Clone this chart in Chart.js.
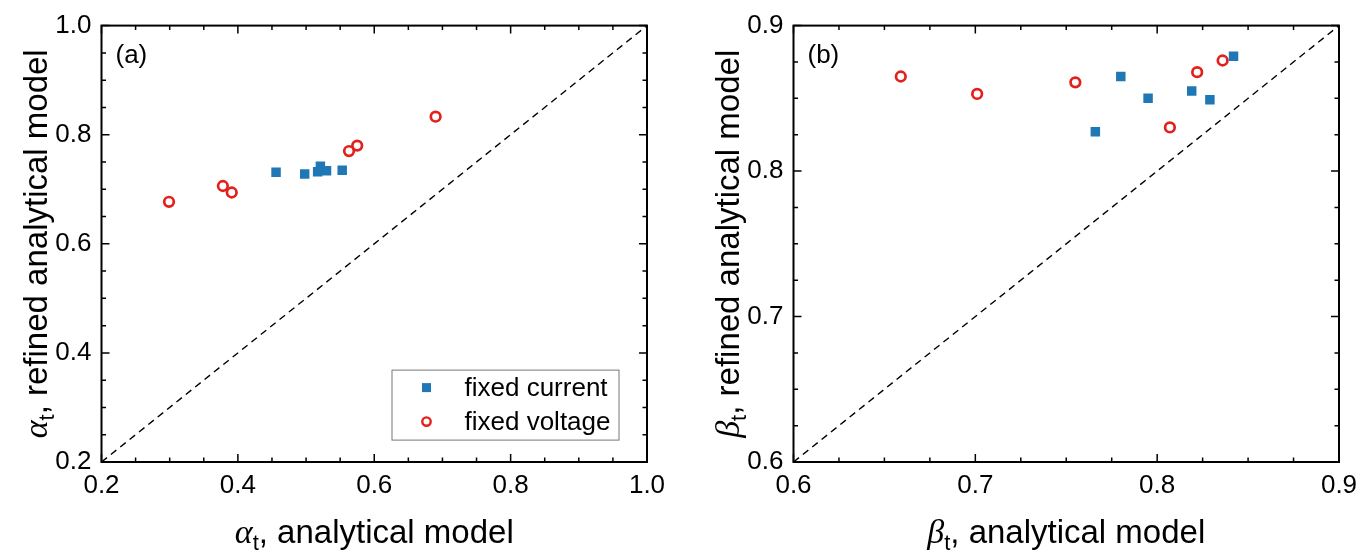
<!DOCTYPE html>
<html>
<head>
<meta charset="utf-8">
<script src="https://cdn.jsdelivr.net/npm/chart.js@4.4.0/dist/chart.umd.min.js"></script>
<style>
  html, body { margin: 0; padding: 0; background: #fff; }
  #wrap { position: relative; width: 1371px; height: 554px; }
  canvas { position: absolute; top: 0; }
</style>
</head>
<body>
<div id="wrap">
  <canvas id="chartA" width="692" height="554" style="left:0"></canvas>
  <canvas id="chartB" width="679" height="554" style="left:692px"></canvas>
</div>
<script>
// panel (a): alpha_t
const alphaCurX = [0.456, 0.498, 0.517, 0.521, 0.530, 0.553];
const alphaCurY = [0.731, 0.728, 0.732, 0.742, 0.734, 0.735];
const alphaVolX = [0.299, 0.378, 0.391, 0.563, 0.575, 0.690];
const alphaVolY = [0.677, 0.706, 0.694, 0.770, 0.780, 0.833];
const alphaRange = [0.2, 1.0];
const alphaTicks = [0.2, 0.4, 0.6, 0.8, 1.0];

// panel (b): beta_t
const betaCurX = [0.766, 0.780, 0.795, 0.819, 0.829, 0.842];
const betaCurY = [0.827, 0.865, 0.850, 0.855, 0.849, 0.879];
const betaVolX = [0.659, 0.701, 0.755, 0.807, 0.822, 0.836];
const betaVolY = [0.865, 0.853, 0.861, 0.830, 0.868, 0.876];
const betaRange = [0.6, 0.9];
const betaTicks = [0.6, 0.7, 0.8, 0.9];

const seriesNames = ['fixed current', 'fixed voltage'];

const BLUE = '#2077b6';
const RED = '#e3211c';
const SANS = '"Liberation Sans", Arial, sans-serif';

const pts = (xs, ys) => xs.map((x, i) => ({ x: x, y: ys[i] }));

function tickMarks(ctx, scale, area, step, labels, horizontal) {
  const n = Math.round((scale.max - scale.min) / step);
  ctx.beginPath();
  for (let i = 0; i <= n; i++) {
    const v = scale.min + i * step;
    const major = labels.some(t => Math.abs(t - v) < 1e-6);
    const len = major ? 8 : 4.5;
    const p = scale.getPixelForValue(v);
    if (horizontal) {
      ctx.moveTo(p, area.bottom); ctx.lineTo(p, area.bottom - len);
      ctx.moveTo(p, area.top); ctx.lineTo(p, area.top + len);
    } else {
      ctx.moveTo(area.left, p); ctx.lineTo(area.left + len, p);
      ctx.moveTo(area.right, p); ctx.lineTo(area.right - len, p);
    }
  }
  ctx.stroke();
}

// text made of runs: greek italic letter, subscript t, rest of title
function drawRuns(ctx, runs, cx, baseline) {
  let w = 0;
  runs.forEach(r => { ctx.font = r.font; w += ctx.measureText(r.t).width; });
  let x = cx - w / 2;
  ctx.textAlign = 'left';
  ctx.textBaseline = 'alphabetic';
  runs.forEach(r => {
    ctx.font = r.font;
    ctx.fillText(r.t, x, baseline + (r.dy || 0));
    x += ctx.measureText(r.t).width;
  });
}

function titleRuns(greek, rest) {
  return [
    { t: greek, font: 'italic 34px "Liberation Serif", serif' },
    { t: 't', font: '22px ' + SANS, dy: 7 },
    { t: rest, font: '33px ' + SANS }
  ];
}

const framePlugin = {
  id: 'frame',
  afterDraw(chart, args, o) {
    const ctx = chart.ctx;
    const a = chart.chartArea;
    const sx = chart.scales.x, sy = chart.scales.y;
    ctx.save();
    ctx.strokeStyle = '#000';
    ctx.lineWidth = 2;
    ctx.strokeRect(a.left, a.top, a.right - a.left, a.bottom - a.top);
    ctx.lineWidth = 1.5;
    tickMarks(ctx, sx, a, o.minor, o.labels, true);
    tickMarks(ctx, sy, a, o.minor, o.labels, false);

    ctx.fillStyle = '#000';
    // panel letter
    ctx.font = '26px ' + SANS;
    ctx.textAlign = 'left';
    ctx.textBaseline = 'middle';
    ctx.fillText(o.panel, a.left + 14, a.top + 30);

    // axis titles
    drawRuns(ctx, titleRuns(o.greek, ', analytical model'), (a.left + a.right) / 2, 543);
    ctx.save();
    ctx.translate(47, (a.top + a.bottom) / 2);
    ctx.rotate(-Math.PI / 2);
    drawRuns(ctx, titleRuns(o.greek, ', refined analytical model'), 0, 0);
    ctx.restore();

    // legend
    if (o.legend) {
      const bx = a.left + 290, by = a.top + 344;
      ctx.strokeStyle = '#777';
      ctx.lineWidth = 1;
      ctx.strokeRect(bx + 0.5, by + 0.5, 227, 70);
      chart.data.datasets.slice(0, 2).forEach((ds, i) => {
        const y = by + 18 + i * 34;
        const x = bx + 35;
        ctx.beginPath();
        if (ds.pointStyle === 'rect') {
          ctx.fillStyle = ds.backgroundColor;
          ctx.fillRect(x - 4.5, y - 4.5, 9, 9);
        } else {
          ctx.arc(x, y, 4.2, 0, Math.PI * 2);
          ctx.fillStyle = '#fff';
          ctx.fill();
          ctx.lineWidth = 2.4;
          ctx.strokeStyle = ds.borderColor;
          ctx.stroke();
        }
        ctx.fillStyle = '#000';
        ctx.font = '26px ' + SANS;
        ctx.textAlign = 'left';
        ctx.textBaseline = 'middle';
        ctx.fillText(ds.label, bx + 73, y + 1);
      });
    }
    ctx.restore();
  }
};

function makeScale(range, ticks, isX) {
  return {
    type: 'linear',
    min: range[0],
    max: range[1],
    grid: { display: false, drawTicks: false },
    border: { display: false },
    ticks: {
      color: '#000',
      font: { family: SANS, size: 26 },
      padding: isX ? 8 : 10,
      callback: v => Number(v).toFixed(1)
    },
    afterBuildTicks: s => { s.ticks = ticks.map(v => ({ value: v })); },
    afterFit: s => { if (isX) s.height = 92; else s.width = 101.5; }
  };
}

function makeChart(id, curX, curY, volX, volY, range, ticks, opts, rightPad) {
  return new Chart(document.getElementById(id), {
    type: 'scatter',
    data: {
      datasets: [
        {
          label: seriesNames[0],
          data: pts(curX, curY),
          pointStyle: 'rect',
          pointRadius: 6.7,
          borderWidth: 0,
          backgroundColor: BLUE,
          borderColor: BLUE
        },
        {
          label: seriesNames[1],
          data: pts(volX, volY),
          pointStyle: 'circle',
          pointRadius: 4.8,
          borderWidth: 2.7,
          backgroundColor: '#fff',
          borderColor: RED
        },
        {
          type: 'line',
          label: 'y = x',
          data: pts(range, range),
          borderColor: '#000',
          borderWidth: 1.4,
          borderDash: [7, 5],
          pointRadius: 0,
          fill: false
        }
      ]
    },
    options: {
      responsive: false,
      animation: false,
      layout: { padding: { left: 0, top: 23, right: rightPad, bottom: 0 } },
      scales: {
        x: makeScale(range, ticks, true),
        y: makeScale(range, ticks, false)
      },
      plugins: {
        legend: { display: false },
        tooltip: { enabled: false },
        frame: opts
      }
    },
    plugins: [framePlugin]
  });
}

makeChart('chartA', alphaCurX, alphaCurY, alphaVolX, alphaVolY, alphaRange, alphaTicks,
  { panel: '(a)', greek: 'α', minor: 0.05, labels: alphaTicks, legend: true }, 45);
makeChart('chartB', betaCurX, betaCurY, betaVolX, betaVolY, betaRange, betaTicks,
  { panel: '(b)', greek: 'β', minor: 0.025, labels: betaTicks, legend: false }, 32);
</script>
</body>
</html>
